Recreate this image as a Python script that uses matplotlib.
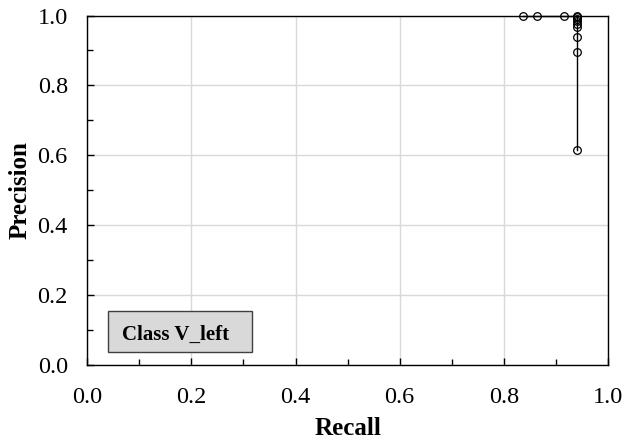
import numpy as np
import matplotlib
matplotlib.use("Agg")
import matplotlib.pyplot as plt
from matplotlib.patches import Rectangle

# precision-recall points
recall = [0.837, 0.863, 0.916, 0.940, 0.940, 0.940, 0.940, 0.940, 0.940, 0.940, 0.940, 0.940]
precision = [1.000, 1.000, 1.000, 1.000, 0.996, 0.990, 0.984, 0.977, 0.968, 0.938, 0.895, 0.614]
class_name = "Class V_left"
ticks = [0.0, 0.2, 0.4, 0.6, 0.8, 1.0]
minor_ticks = [0.1, 0.3, 0.5, 0.7, 0.9]

plt.rcParams['font.family'] = ['Liberation Serif', 'DejaVu Serif']

fig = plt.figure(figsize=(6.28, 4.43), dpi=100)
ax = fig.add_axes([0.139, 0.176, 0.829, 0.789])

ax.plot(recall, precision, color='black', lw=1.0, marker='o', ms=5.5,
        mfc='none', mec='black', mew=0.9, clip_on=False, zorder=3)

ax.set_xlim(0, 1)
ax.set_ylim(0, 1)
ax.set_xticks(ticks)
ax.set_yticks(ticks)
ax.set_xticks(minor_ticks, minor=True)
ax.set_yticks(minor_ticks, minor=True)
ax.set_xticklabels(['%.1f' % v for v in ticks])
ax.set_yticklabels(['%.1f' % v for v in ticks])
ax.tick_params(which='both', direction='in', labelsize=17.5, width=1.0)
ax.tick_params(axis='x', which='major', pad=16)
ax.tick_params(axis='y', which='major', pad=14)
ax.tick_params(which='major', length=5)
ax.tick_params(which='minor', length=4.5)
ax.grid(True, which='major', color='#d9d9d9', lw=1.0)
ax.set_axisbelow(True)
for s in ax.spines.values():
    s.set_linewidth(1.0)

ax.set_xlabel('Recall', fontsize=18, fontweight='bold', labelpad=6)
ax.set_ylabel('Precision', fontsize=18, fontweight='bold', labelpad=4.5)

# label box in the lower-left corner
ax.add_patch(Rectangle((0.04, 0.038), 0.277, 0.117, transform=ax.transAxes,
                       fc='#d9d9d9', ec='#404040', lw=1.0, zorder=4))
ax.text(0.1695, 0.073, class_name, transform=ax.transAxes, ha='center',
        va='baseline', fontsize=15, fontweight='bold', zorder=5)

fig.savefig('out.png', dpi=100)
